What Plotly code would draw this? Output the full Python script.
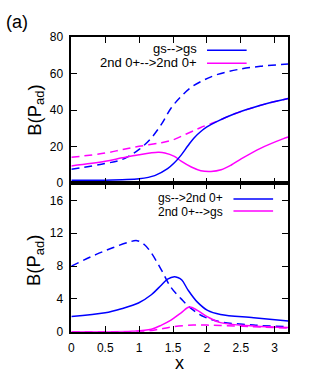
import plotly.graph_objects as go

# ---------------- data ----------------
# Top panel: gs-->gs (blue) and 2nd 0+-->2nd 0+ (magenta); solid and dashed
top_blue_solid_x = [0, 0.5, 0.75, 1.0, 1.23, 1.42, 1.52, 1.62, 1.72, 1.81, 1.91, 2.0, 2.16, 2.41, 2.65, 2.9, 3.2]
top_blue_solid_y = [1.6, 1.7, 2.0, 2.5, 4.2, 8.0, 11.2, 15.4, 20.5, 24.8, 28.3, 30.8, 34.0, 38.0, 41.0, 43.7, 46.3]

top_blue_dash_x = [0, 0.5, 0.75, 1.0, 1.18, 1.33, 1.47, 1.62, 1.77, 1.96, 2.16, 2.45, 2.79, 3.2]
top_blue_dash_y = [7.7, 10.8, 13.0, 18.5, 24.8, 32.3, 41.0, 47.5, 52.5, 56.5, 59.5, 62.1, 63.9, 65.2]

top_mag_solid_x = [0, 0.5, 0.75, 1.0, 1.28, 1.38, 1.52, 1.62, 1.77, 1.91, 2.06, 2.21, 2.36, 2.5, 2.79, 3.13, 3.2]
top_mag_solid_y = [9.5, 12.0, 13.9, 15.6, 16.9, 16.6, 14.7, 12.1, 8.9, 6.9, 6.5, 7.4, 10.0, 13.2, 19.1, 24.4, 25.3]

top_mag_dash_x = [0, 0.5, 0.75, 1.0, 1.33, 1.52, 1.67, 1.81, 1.91, 2.06, 2.16, 2.41, 2.65, 2.9, 3.2]
top_mag_dash_y = [14.2, 16.5, 18.4, 20.2, 22.2, 24.0, 26.5, 28.8, 30.5, 32.6, 34.0, 38.0, 41.0, 43.7, 46.3]

# Bottom panel: gs-->2nd 0+ (blue) and 2nd 0+-->gs (magenta)
bot_blue_solid_x = [0, 0.5, 0.74, 0.99, 1.18, 1.33, 1.42, 1.52, 1.57, 1.63, 1.72, 1.86, 2.01, 2.2, 2.69, 3.2]
bot_blue_solid_y = [1.85, 2.3, 2.8, 3.5, 4.5, 5.7, 6.4, 6.7, 6.6, 6.3, 5.1, 3.6, 2.6, 2.1, 1.7, 1.3]

bot_blue_dash_x = [0, 0.36, 0.6, 0.84, 0.97, 1.08, 1.18, 1.33, 1.47, 1.62, 1.77, 1.96, 2.2, 2.69, 3.2]
bot_blue_dash_y = [8.0, 9.4, 10.2, 10.9, 11.1, 10.6, 9.6, 7.5, 5.4, 4.0, 2.8, 1.8, 1.2, 0.8, 0.6]

bot_mag_solid_x = [0, 0.5, 0.9, 1.18, 1.33, 1.47, 1.62, 1.74, 1.86, 2.01, 2.2, 2.69, 3.2]
bot_mag_solid_y = [0, 0, 0.05, 0.3, 0.8, 1.4, 2.3, 3.0, 2.6, 1.8, 1.1, 0.7, 0.5]

bot_mag_dash_x = [0, 0.8, 1.1, 1.3, 1.5, 1.8, 2.0, 2.2, 2.69, 3.2]
bot_mag_dash_y = [0, 0, 0.05, 0.3, 0.6, 0.8, 0.8, 0.75, 0.6, 0.45]

x_ticks = [0, 0.5, 1, 1.5, 2, 2.5, 3]
x_tick_text = ["0", "0.5", "1", "1.5", "2", "2.5", "3"]
top_y_ticks = [0, 20, 40, 60, 80]
bot_y_ticks = [0, 4, 8, 12, 16]

legend_top = ["gs-->gs", "2nd 0+-->2nd 0+"]
legend_bot = ["gs-->2nd 0+", "2nd 0+-->gs"]

BLUE = "#0000ff"
MAG = "#ff00ff"
DASH = "8px,5px"
LW = 1.5

fig = go.Figure()

def add(x, y, color, dash, xa, ya):
    fig.add_trace(go.Scatter(x=x, y=y, mode="lines", xaxis=xa, yaxis=ya,
                             line=dict(color=color, width=LW, dash=dash, shape="spline", smoothing=1.0),
                             showlegend=False, hoverinfo="skip"))

add(top_blue_dash_x, top_blue_dash_y, BLUE, DASH, "x", "y")
add(top_mag_dash_x, top_mag_dash_y, MAG, DASH, "x", "y")
add(top_mag_solid_x, top_mag_solid_y, MAG, "solid", "x", "y")
add(top_blue_solid_x, top_blue_solid_y, BLUE, "solid", "x", "y")

add(bot_blue_dash_x, bot_blue_dash_y, BLUE, DASH, "x2", "y2")
add(bot_mag_dash_x, bot_mag_dash_y, MAG, DASH, "x2", "y2")
add(bot_mag_solid_x, bot_mag_solid_y, MAG, "solid", "x2", "y2")
add(bot_blue_solid_x, bot_blue_solid_y, BLUE, "solid", "x2", "y2")

W, H = 313, 382
def px(x): return x / W
def py(y): return 1 - y / H

XDOM = [px(69), px(288)]
TOPDOM = [py(183), py(31)]
BOTDOM = [py(337), py(183)]

FONT = "Liberation Sans, Arial, sans-serif"
axis_common = dict(showline=True, linecolor="black", linewidth=1.5, mirror="ticks",
                   ticks="inside", ticklen=6, tickwidth=1, tickcolor="black",
                   showgrid=False, zeroline=False,
                   tickfont=dict(family=FONT, size=12, color="black"))

fig.update_layout(
    width=W, height=H, margin=dict(l=0, r=0, t=0, b=0),
    paper_bgcolor="white", plot_bgcolor="white",
    xaxis=dict(domain=XDOM, range=[0, 3.2], anchor="y", tickvals=x_ticks,
               showticklabels=False, **axis_common),
    yaxis=dict(domain=TOPDOM, range=[0, 80], anchor="x", tickvals=top_y_ticks,
               ticklabelstandoff=4, **axis_common),
    xaxis2=dict(domain=XDOM, range=[0, 3.2], anchor="y2", tickvals=x_ticks,
                ticktext=x_tick_text, ticklabelstandoff=4, **axis_common),
    yaxis2=dict(domain=BOTDOM, range=[0, 18.1], anchor="x2", tickvals=bot_y_ticks,
                ticklabelstandoff=4, **axis_common),
)

ann = []
def text(x, y, s, size, xanchor="center", angle=0):
    ann.append(dict(x=px(x), y=py(y), xref="paper", yref="paper", text=s, showarrow=False,
                    xanchor=xanchor, yanchor="middle", textangle=angle,
                    font=dict(family=FONT, size=size, color="black")))

text(14, 16, "(a)", 18)
text(33, 107, "B(P<sub>ad</sub>)", 18.5, angle=-90)
text(33, 263, "B(P<sub>ad</sub>)", 18.5, angle=-90)
text(178, 370, "x", 18)

# legends (text left, sample line right, as in the original)
for lab, yy in zip(legend_top, [43, 58]):
    text(198, yy, lab, 13, xanchor="right")
for lab, yy in zip(legend_bot, [198.5, 212.3]):
    text(224, yy, lab, 12, xanchor="right")

shapes = []
for col, yy in zip([BLUE, MAG], [45, 58.3]):
    shapes.append(dict(type="line", xref="paper", yref="paper", x0=px(206), x1=px(246),
                       y0=py(yy), y1=py(yy), line=dict(color=col, width=LW)))
for col, yy in zip([BLUE, MAG], [199.3, 211.7]):
    shapes.append(dict(type="line", xref="paper", yref="paper", x0=px(232.7), x1=px(272.7),
                       y0=py(yy), y1=py(yy), line=dict(color=col, width=LW)))

fig.update_layout(annotations=ann, shapes=shapes)
fig.write_html("out.html", config={"displayModeBar": False},
               post_script="document.body.style.margin='0';")
